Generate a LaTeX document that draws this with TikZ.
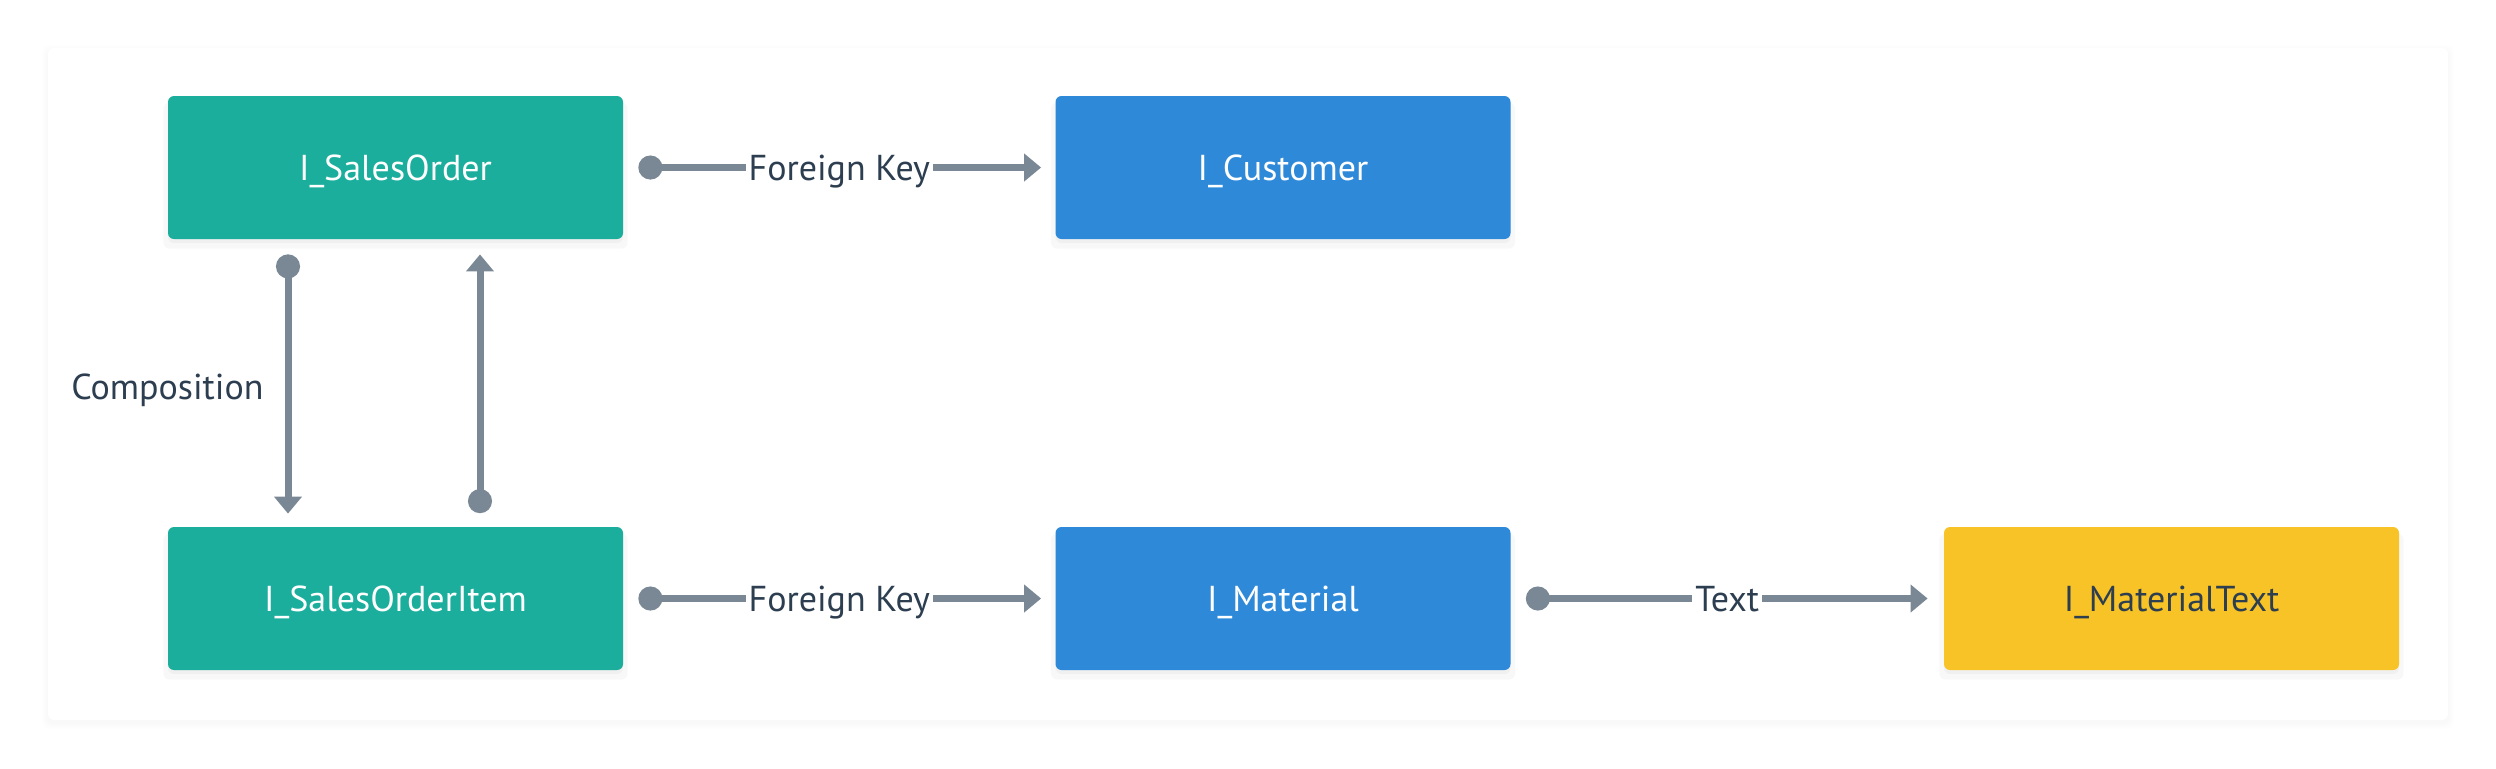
\documentclass[tikz,border=0pt]{standalone}
\usepackage{fontspec}
\setmainfont{PT Sans}
\usetikzlibrary{arrows.meta,shadows}
\definecolor{tealbox}{HTML}{1BAE9D}
\definecolor{bluebox}{HTML}{2E89D9}
\definecolor{yellowbox}{HTML}{F7C326}
\definecolor{edgecol}{HTML}{7A8896}
\definecolor{ink}{HTML}{2C3E50}
\begin{document}
\begin{tikzpicture}[x=0.5pt,y=-0.5pt,
  entity/.style={rectangle, rounded corners=3pt, minimum width=227.5pt, minimum height=71.5pt,
    inner sep=0pt, font=\fontsize{18}{20}\selectfont, text=white, text height=12.6pt, text depth=0pt,
    drop shadow={shadow xshift=0pt, shadow yshift=-4pt, opacity=0.05, shadow scale=1.02},
    drop shadow={shadow xshift=0pt, shadow yshift=-2pt, opacity=0.06}},
  conn/.style={draw=edgecol, line width=3.5pt,
    {Circle[length=12pt,width=12pt]}-{Triangle[length=8.5pt,width=13.5pt]}},
  lbl/.style={fill=white, text=ink, inner sep=1.5pt, font=\fontsize{18}{20}\selectfont,
    text height=12.6pt, text depth=0pt},
  plainlbl/.style={text=ink, inner sep=0pt, font=\fontsize{18}{20}\selectfont,
    text height=12.6pt, text depth=0pt}]
\useasboundingbox (0,0) rectangle (2496,768);
\fill[white] (0,0) rectangle (2496,768);
% panel with faint shadow
\foreach \i in {1,...,6}
  \fill[black, opacity=0.005, rounded corners=4pt] (48-\i,48-\i+3) rectangle (2448+\i,720+\i+3);
\fill[white, rounded corners=3pt] (48,48) rectangle (2448,720);

\node[entity, fill=tealbox] (so) at (395.5,167.5) {I\_SalesOrder};
\node[entity, fill=bluebox] (cu) at (1283,167.5) {I\_Customer};
\node[entity, fill=tealbox] (soi) at (395.5,598.5) {I\_SalesOrderItem};
\node[entity, fill=bluebox] (ma) at (1283,598.5) {I\_Material};
\node[entity, fill=yellowbox, text=ink] (mt) at (2171.5,598.5) {I\_MaterialText};

\draw[conn, shorten <=7.5pt, shorten >=7pt] (so.east) -- node[lbl]{Foreign Key} (cu.west);
\draw[conn, shorten <=7.5pt, shorten >=7pt] (soi.east) -- node[lbl]{Foreign Key} (ma.west);
\draw[conn, shorten <=7.5pt, shorten >=8pt] (ma.east) -- node[lbl]{Text} (mt.west);

\draw[conn, shorten <=7.5pt, shorten >=6.5pt] ([xshift=-53.75pt]so.south) --
  node[plainlbl, anchor=east, xshift=-10.5pt, yshift=-2pt]{Composition} ([xshift=-53.75pt]soi.north);
\draw[conn, shorten <=6.75pt, shorten >=7.5pt] ([xshift=42.25pt]soi.north) -- ([xshift=42.25pt]so.south);
\end{tikzpicture}
\end{document}
